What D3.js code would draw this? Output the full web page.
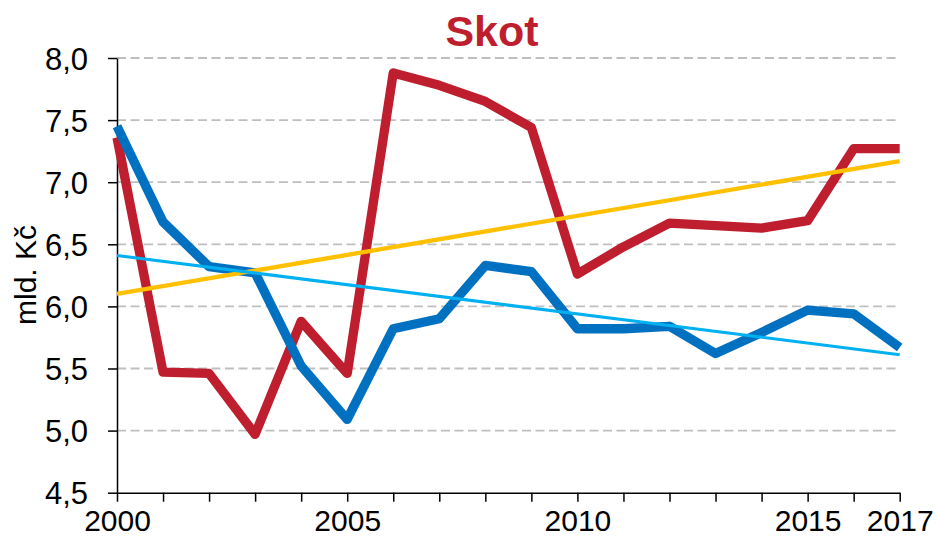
<!DOCTYPE html>
<html>
<head>
<meta charset="utf-8">
<script src="https://cdn.jsdelivr.net/npm/d3@7"></script>
<style>
  body { margin: 0; background: #fff; }
  svg { display: block; font-family: "Liberation Sans", Arial, sans-serif; }
</style>
</head>
<body>
<div id="chart"></div>
<script>
// Years on the x axis
const years = d3.range(2000, 2018);

// Red series (mld. Kč)
const redValues = [7.36, 5.47, 5.46, 4.97, 5.88, 5.46, 7.88, 7.78, 7.65, 7.44,
                   6.26, 6.48, 6.67, 6.65, 6.63, 6.69, 7.27, 7.27];

// Blue series (mld. Kč)
const blueValues = [7.45, 6.68, 6.32, 6.27, 5.52, 5.09, 5.82, 5.90, 6.33, 6.28,
                    5.82, 5.82, 5.84, 5.62, 5.79, 5.97, 5.94, 5.67];

// Linear trend lines, start and end values (2000, 2017)
const trendYears = [2000, 2017];
const redTrend = [6.10, 7.17];
const blueTrend = [6.41, 5.61];

// Tick values
const yTicks = [4.5, 5.0, 5.5, 6.0, 6.5, 7.0, 7.5, 8.0];
const xLabelYears = [2000, 2005, 2010, 2015, 2017];

let width = 938, height = 538;
let margin = {top: 58, bottom: 45.3, left: 117, right: 38.3};

let svg = d3.select("#chart")
  .append("svg")
  .attr("width", width)
  .attr("height", height);

let xScale = d3.scaleLinear()
  .domain([2000, 2017])
  .range([margin.left, width - margin.right]);

let yScale = d3.scaleLinear()
  .domain([4.5, 8.0])
  .range([height - margin.bottom, margin.top]);

const fmt = d => d3.format(".1f")(d).replace(".", ",");

// Gridlines
svg.append("g")
  .selectAll("line")
  .data(yTicks.filter(d => d > 4.5))
  .enter()
  .append("line")
  .attr("x1", margin.left)
  .attr("x2", width - margin.right)
  .attr("y1", d => yScale(d))
  .attr("y2", d => yScale(d))
  .attr("stroke", "#bfbfbf")
  .attr("stroke-width", 1.8)
  .attr("stroke-dasharray", "9,4.5");

// Y axis
let yAxis = svg.append("g")
  .attr("transform", `translate(${margin.left},0)`)
  .call(d3.axisLeft(yScale)
    .tickValues(yTicks)
    .tickFormat(fmt)
    .tickSize(9)
    .tickSizeOuter(0)
    .tickPadding(20));

// X axis
let xAxis = svg.append("g")
  .attr("transform", `translate(0,${height - margin.bottom})`)
  .call(d3.axisBottom(xScale)
    .tickValues(years)
    .tickFormat(d => xLabelYears.includes(d) ? d : "")
    .tickSize(9)
    .tickSizeOuter(0)
    .tickPadding(8));

[yAxis, xAxis].forEach(ax => {
  ax.selectAll("path, line").attr("stroke", "#000").attr("stroke-width", 1.5);
  ax.selectAll("text")
    .attr("fill", "#000")
    .style("font-family", "'Liberation Sans', Arial, sans-serif");
});
yAxis.selectAll("text").attr("dy", "0.36em").style("font-size", "31px");
xAxis.selectAll("text").style("font-size", "30px");

// Lines
let line = d3.line()
  .x(d => xScale(d[0]))
  .y(d => yScale(d[1]));

function drawLine(xs, vals, color, w) {
  svg.append("path")
    .datum(xs.map((x, i) => [x, vals[i]]))
    .attr("d", line)
    .attr("fill", "none")
    .attr("stroke", color)
    .attr("stroke-width", w)
    .attr("stroke-linejoin", "round");
}

drawLine(years, redValues, "#be1e2d", 9.3);
drawLine(years, blueValues, "#0070c0", 9.3);
drawLine(trendYears, redTrend, "#ffc000", 4.3);
drawLine(trendYears, blueTrend, "#00b0f0", 3);

// Title
svg.append("text")
  .text("Skot")
  .attr("x", 492)
  .attr("y", 46)
  .attr("text-anchor", "middle")
  .attr("fill", "#be1e2d")
  .style("font-size", "43px")
  .style("font-weight", "bold");

// Y axis label
svg.append("text")
  .attr("transform", "rotate(-90)")
  .attr("x", -275)
  .attr("y", 36)
  .attr("text-anchor", "middle")
  .text("mld. Kč")
  .style("font-size", "30px");
</script>
</body>
</html>
